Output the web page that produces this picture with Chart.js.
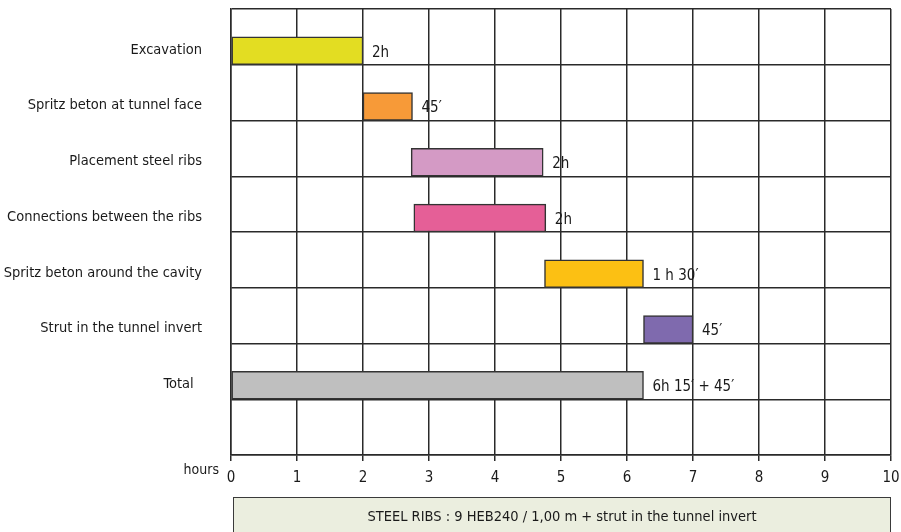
<!DOCTYPE html>
<html>
<head>
<meta charset="utf-8">
<script src="https://cdn.jsdelivr.net/npm/chart.js@4"></script>
<style>
  html, body { margin: 0; padding: 0; background: #ffffff; }
  #wrap { position: relative; width: 901px; height: 532px; }
</style>
</head>
<body>
<div id="wrap"><canvas id="chart" width="901" height="532"></canvas></div>
<script>
// Work phases of one advance cycle (start hour, end hour)
const phases = [
  'Excavation',
  'Spritz beton at tunnel face',
  'Placement steel ribs',
  'Connections between the ribs',
  'Spritz beton around the cavity',
  'Strut in the tunnel invert',
  'Total  ',
  ''
];
const phaseStart = [0, 2, 2.73, 2.77, 4.75, 6.25, 0];
const phaseEnd   = [2, 2.75, 4.73, 4.77, 6.25, 7, 6.25];
const durationLabels = ['2h', '45′', '2h', '2h', '1 h 30′', '45′', '6h 15′ + 45′'];
const phaseColors = ['#e3dd22', '#f79a38', '#d49ac5', '#e55f97', '#fcc013', '#7f6aae', '#bfbfbf'];
const hourTicks = [0, 1, 2, 3, 4, 5, 6, 7, 8, 9, 10];
const axisUnit = 'hours';
const footnote = 'STEEL RIBS : 9 HEB240 / 1,00 m + strut in the tunnel invert';

const FONT = '"Liberation Sans Narrow", "DejaVu Sans Condensed", "Liberation Sans", sans-serif';
const TEXT = '#1a1a1a';
const GRID = '#2a2a2a';

const spans = phaseStart.map((s, i) => [s, phaseEnd[i]]);

// Writes the duration next to the end of each bar
const durationText = {
  id: 'durationText',
  afterDatasetsDraw(chart) {
    const meta = chart.getDatasetMeta(1);
    const ctx = chart.ctx;
    ctx.save();
    ctx.font = '15px ' + FONT;
    ctx.fillStyle = TEXT;
    ctx.textAlign = 'left';
    ctx.textBaseline = 'middle';
    meta.data.forEach((bar, i) => {
      if (!durationLabels[i]) return;
      ctx.fillText(durationLabels[i], bar.x + 9, bar.y + 2);
    });
    ctx.restore();
  }
};

// Axis unit on the left and the note box under the time axis
const axisNotes = {
  id: 'axisNotes',
  afterDraw(chart) {
    const ctx = chart.ctx;
    const xs = chart.scales.x;
    ctx.save();
    ctx.font = '14px ' + FONT;
    ctx.fillStyle = TEXT;
    ctx.textAlign = 'right';
    ctx.textBaseline = 'middle';
    ctx.fillText(axisUnit, xs.left - 12, xs.top + 15);

    const left = xs.getPixelForValue(0) + 2;
    const right = xs.getPixelForValue(10);
    const top = xs.top + 42;
    ctx.fillStyle = '#ebeedf';
    ctx.fillRect(left, top, right - left, 60);
    ctx.strokeStyle = '#3a3a3a';
    ctx.lineWidth = 1;
    ctx.strokeRect(left + 0.5, top + 0.5, right - left - 1, 60);
    ctx.fillStyle = TEXT;
    ctx.textAlign = 'center';
    ctx.font = '14.5px ' + FONT;
    ctx.fillText(footnote, (left + right) / 2, top + 20);
    ctx.restore();
  }
};

new Chart(document.getElementById('chart'), {
  type: 'bar',
  data: {
    labels: phases,
    datasets: [
      { label: 'spacer', data: phases.map(() => null), backgroundColor: 'rgba(0,0,0,0)' },
      {
        label: 'phases',
        data: spans,
        backgroundColor: phaseColors,
        borderColor: '#333333',
        borderWidth: 1.5,
        borderSkipped: false
      }
    ]
  },
  options: {
    indexAxis: 'y',
    responsive: false,
    animation: false,
    devicePixelRatio: 1,
    layout: { padding: { top: 9, right: 10, left: 0, bottom: 0 } },
    datasets: { bar: { categoryPercentage: 1, barPercentage: 1, grouped: true } },
    plugins: { legend: { display: false }, tooltip: { enabled: false } },
    scales: {
      x: {
        type: 'linear',
        min: 0,
        max: 10,
        afterBuildTicks(scale) { scale.ticks = hourTicks.map(v => ({ value: v })); },
        afterFit(scale) {
          scale.height = 77;
          scale.paddingLeft = 0;
          scale.paddingRight = 0;
        },
        ticks: { color: TEXT, font: { family: FONT, size: 15 }, padding: 8 },
        grid: { color: GRID, lineWidth: 1.5, tickLength: 6, drawTicks: true },
        border: { color: GRID, width: 1.5 }
      },
      y: {
        type: 'category',
        afterFit(scale) {
          scale.width = 231;
          scale.paddingTop = 0;
          scale.paddingBottom = 0;
        },
        ticks: { color: TEXT, font: { family: FONT, size: 14.5 }, padding: 29, labelOffset: 13 },
        grid: { color: GRID, lineWidth: 1.5, drawTicks: false, offset: true },
        border: { color: GRID, width: 1.5 }
      }
    }
  },
  plugins: [durationText, axisNotes]
});
</script>
</body>
</html>
